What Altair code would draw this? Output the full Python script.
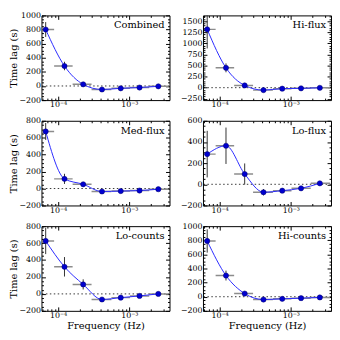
import altair as alt
import pandas as pd

# Frequency bins (Hz)
freq = [6.70e-5, 1.23e-4, 2.25e-4, 4.13e-4, 7.57e-4, 1.39e-3, 2.55e-3]
f_lo = [6.05e-5, 8.8e-5, 1.60e-4, 2.95e-4, 5.6e-4, 1.02e-3, 1.90e-3]
f_hi = [8.8e-5, 1.60e-4, 2.95e-4, 5.6e-4, 1.02e-3, 1.90e-3, 3.55e-3]

names = ["Combined", "Hi-flux", "Med-flux", "Lo-flux", "Lo-counts", "Hi-counts"]

lag_combined = [800, 283, 23, -50, -33, -22, -5]
err_combined = [105, 60, 20, 12, 8, 6, 5]
lag_hiflux = [1315, 447, 51, -55, -22, -15, -3]
err_hiflux = [430, 100, 35, 20, 15, 12, 10]
lag_medflux = [674, 114, 50, -35, -30, -24, -8]
err_medflux = [100, 60, 20, 12, 8, 6, 5]
lag_loflux = [285, 364, 97, -75, -60, -38, 9]
err_loflux = [220, 172, 100, 30, 20, 15, 10]
lag_locounts = [625, 320, 112, -66, -44, -24, 0]
err_locounts = [155, 115, 60, 20, 12, 8, 6]
lag_hicounts = [790, 300, 45, -40, -30, -20, -10]
err_hicounts = [165, 70, 25, 12, 8, 6, 5]

lags = [lag_combined, lag_hiflux, lag_medflux, lag_loflux, lag_locounts, lag_hicounts]
errs = [err_combined, err_hiflux, err_medflux, err_loflux, err_locounts, err_hicounts]
ydomains = [[-200, 1000], [-280, 1630], [-200, 800], [-200, 600], [-200, 800], [-200, 1000]]
yticks = [list(range(-200, 1001, 200)), list(range(-250, 1501, 250)),
          list(range(-200, 801, 200)), list(range(-200, 601, 200)),
          list(range(-200, 801, 200)), list(range(-200, 1001, 200))]
yminor = [list(range(-250, 1651, 50)) for _ in range(6)]

xmajor = [1e-4, 1e-3]
xminor = [6e-5, 7e-5, 8e-5, 9e-5, 2e-4, 3e-4, 4e-4, 5e-4, 6e-4, 7e-4, 8e-4, 9e-4,
          2e-3, 3e-3]

W, H = 130, 86
SERIF = "DejaVu Serif"
xdomain = [5.85e-5, 3.66e-3]


def tick_axis(orient, values, size):
    return alt.Axis(orient=orient, values=values, labels=False, tickSize=size,
                    offset=-size, domain=False, grid=False, title=None,
                    minExtent=0, maxExtent=0)


def panel(i):
    df = pd.DataFrame({
        "freq": freq, "f_lo": f_lo, "f_hi": f_hi, "lag": lags[i],
        "lo": [l - e for l, e in zip(lags[i], errs[i])],
        "hi": [l + e for l, e in zip(lags[i], errs[i])],
    })
    one = pd.DataFrame({"name": [names[i]], "zero": [0]})
    left = (i % 2 == 0)
    bottom = (i >= 4)
    lo_d, hi_d = ydomains[i]
    ymin_vals = [v for v in yminor[i] if lo_d <= v <= hi_d and v not in yticks[i]]
    xs = alt.Scale(type="log", domain=xdomain, nice=False)
    ys = alt.Scale(domain=ydomains[i], nice=False, zero=False)
    xaxis = alt.Axis(
        values=xmajor,
        labelExpr="datum.value < 0.0005 ? '10⁻⁴' : '10⁻³'",
        tickSize=4, offset=-4, domain=False, grid=False, labelPadding=1,
        title="Frequency (Hz)" if bottom else None,
        titlePadding=2, minExtent=12, maxExtent=12,
    )
    yaxis = alt.Axis(
        values=yticks[i], format="d", tickSize=4, offset=-4, domain=False, grid=False,
        labelPadding=1, title="Time lag (s)" if left else None,
        titlePadding=2, minExtent=25, maxExtent=25,
    )
    base = alt.Chart(df)
    X = lambda f: alt.X(f, type="quantitative", scale=xs, axis=xaxis)
    Y = lambda f: alt.Y(f, type="quantitative", scale=ys, axis=yaxis)
    zero = alt.Chart(one).mark_rule(color="black", strokeDash=[1.5, 2.5],
                                    strokeWidth=0.8).encode(y=Y("zero"))
    hbar = base.mark_rule(color="#8c8c8c", strokeWidth=1.5, clip=True).encode(
        x=X("f_lo"), x2="f_hi", y=Y("lag"))
    vbar = base.mark_rule(color="#333333", strokeWidth=1, clip=True).encode(
        x=X("freq"), y=Y("lo"), y2="hi")
    line = base.mark_line(color="#2b2bff", strokeWidth=1, interpolate="monotone").encode(
        x=X("freq"), y=Y("lag"))
    pts = base.mark_circle(color="#0000d0", size=28, opacity=1, stroke="#00006a",
                           strokeWidth=0.5).encode(x=X("freq"), y=Y("lag"))
    label = alt.Chart(one).mark_text(align="right", baseline="top", font=SERIF,
                                     fontSize=10, fontWeight="normal",
                                     color="black").encode(
        x=alt.value(W - 5), y=alt.value(5), text="name:N")
    main = alt.layer(zero, hbar, vbar, line, pts, label)

    def ghost(xo, xv, xsz, yo, yv, ysz):
        return base.mark_point(opacity=0).encode(
            x=alt.X("freq", type="quantitative", scale=xs, axis=tick_axis(xo, xv, xsz)),
            y=alt.Y("lag", type="quantitative", scale=ys, axis=tick_axis(yo, yv, ysz)))

    minor_bl = ghost("bottom", xminor, 2, "left", ymin_vals, 2)
    major_tr = ghost("top", xmajor, 4, "right", yticks[i], 4)
    minor_tr = ghost("top", xminor, 2, "right", ymin_vals, 2)
    return alt.layer(main, minor_bl, major_tr, minor_tr).resolve_axis(
        x="independent", y="independent").properties(width=W, height=H)


chart = alt.concat(*[panel(i) for i in range(6)], columns=2,
                   spacing={"row": 6, "column": 9}).configure_view(
    stroke="black", strokeWidth=1
).configure_axis(
    labelFont=SERIF, titleFont=SERIF, labelFontSize=8, titleFontSize=10,
    labelColor="black", titleColor="black", tickColor="black",
    titleFontWeight="normal"
).properties(padding=0)

chart.save("out.html", embed_options={"renderer": "svg", "actions": False})
